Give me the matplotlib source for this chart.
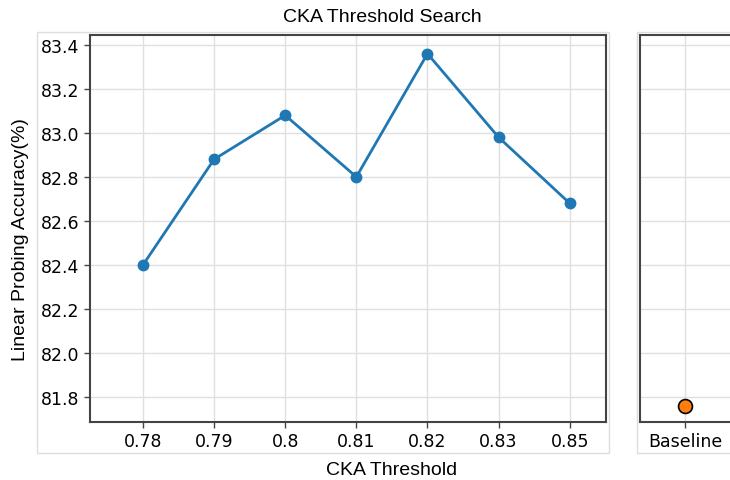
import matplotlib.pyplot as plt
from matplotlib.patches import Rectangle

plt.rcParams['font.family'] = ['DejaVu Sans']

# data
thresholds = ['0.78', '0.79', '0.8', '0.81', '0.82', '0.83', '0.85']
accuracy = [82.40, 82.88, 83.08, 82.80, 83.36, 82.98, 82.68]
baseline_label = ['Baseline']
baseline_acc = [81.76]

W, H = 730, 481
fig = plt.figure(figsize=(W / 100, H / 100), dpi=100)

def box(l, t, r, b):
    return [l / W, 1 - b / H, (r - l) / W, (b - t) / H]

# light frames around each panel
for l, t, r, b in [(37, 33, 609, 454), (637, 33, 760, 454)]:
    fig.patches.append(Rectangle((l / W, 1 - b / H), (r - l) / W, (b - t) / H,
                                 transform=fig.transFigure, fill=False,
                                 edgecolor='#dddddd', linewidth=1.0, zorder=0))

ax = fig.add_axes(box(90, 36, 606, 423))
ax2 = fig.add_axes(box(640, 36, 820, 423), sharey=ax)

xs = list(range(len(thresholds)))
ax.plot(xs, accuracy, color='#1f77b4', marker='o', markersize=7.5, linewidth=2)
ax.set_xticks(xs)
ax.set_xticklabels(thresholds)
ax.set_xlim(-0.745, 6.51)
ax.set_ylim(81.686, 83.445)
ax.set_yticks([81.8, 82.0, 82.2, 82.4, 82.6, 82.8, 83.0, 83.2, 83.4])

ax2.plot([0], baseline_acc, marker='o', markersize=10, color='#ff7f0e',
         markeredgecolor='black', markeredgewidth=1.2, linestyle='none')
ax2.set_xticks([0])
ax2.set_xticklabels(baseline_label)
ax2.set_xlim(-1.0, 3.0)
ax2.tick_params(axis='y', left=False, labelleft=False)

for a in (ax, ax2):
    a.grid(True, color='#e0e0e0', linewidth=1)
    a.set_axisbelow(True)
    for s in a.spines.values():
        s.set_color('#444444')
        s.set_linewidth(1.5)
    a.tick_params(labelsize=12.5, color='#444444', length=4, width=1)

lab = dict(family=['Liberation Sans', 'DejaVu Sans'], fontsize=14)
fig.text(382 / W, 1 - 17 / H, 'CKA Threshold Search', ha='center', va='center', **lab)
fig.text(392 / W, 1 - 471 / H, 'CKA Threshold', ha='center', va='center', **lab)
fig.text(21 / W, 1 - 240 / H, 'Linear Probing Accuracy(%)', rotation=90,
         ha='center', va='center', **lab)

fig.savefig('out.png', dpi=100)
